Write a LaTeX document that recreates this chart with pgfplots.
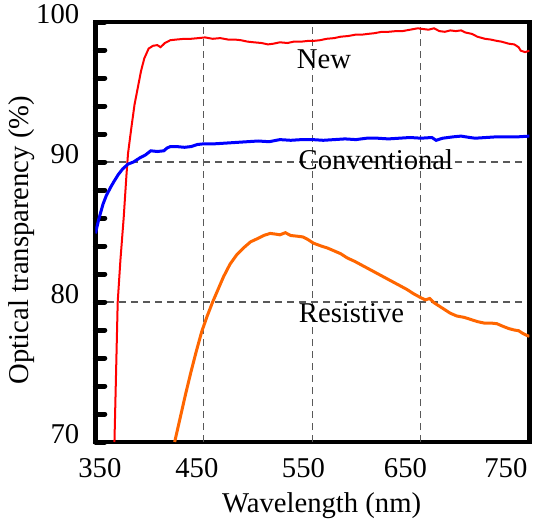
\documentclass[border=0pt]{standalone}
\usepackage{fontspec}
\setmainfont{Liberation Serif}
\usepackage{pgfplots}
\pgfplotsset{compat=1.18}
\definecolor{newred}{HTML}{FF0000}
\definecolor{convblue}{HTML}{0000FF}
\definecolor{resorange}{HTML}{FF6600}
\pgfplotsset{
  layers/gridbelow/.define layer set={axis background,axis grid,pre main,main,axis ticks,axis lines,axis tick labels,axis descriptions,axis foreground}{},
}

\begin{document}
\fontsize{21.5}{25}\selectfont
\begin{tikzpicture}
  \begin{axis}[
    set layers=gridbelow,
    scale only axis,
    width=325.5pt, height=315pt,
    xmin=350, xmax=750, ymin=70, ymax=100,
    axis line style={line width=3.5pt, line join=miter},
    % labels in the original sit a little off the grid lines
    xtick={354.1,443.5,541.7,635.7,728.3},
    xticklabels={350,450,550,650,750},
    xtick style={draw=none},
    extra x ticks={450,550,650},
    extra x tick labels={},
    extra x tick style={xmajorgrids=true, xtick style={draw=none}},
    ytick={70,80,90,100},
    minor y tick num=4,
    ytick pos=left,
    ytick style={line width=3.75pt, line cap=round, black},
    major tick length=7pt, minor tick length=7pt,
    ymajorgrids=true,
    grid style={black!65, line width=0.8pt, dash pattern=on 5pt off 4pt},
    /pgf/number format/assume math mode=true,
    xticklabel style={anchor=north, inner sep=0pt, yshift=-12pt},
    yticklabel style={anchor=base east, inner sep=0pt, xshift=-12pt, yshift=-1pt},
    xlabel={Wavelength (nm)},
    ylabel={Optical transparency (\%)},
    every axis x label/.style={at={(axis description cs:0.521,-0.169)}, anchor=base},
    every axis y label/.style={at={(axis description cs:-0.169,0.481)}, rotate=90, anchor=center},
  ]
    % New
    \addplot[newred, line width=1.5pt] coordinates {
      (367.5,70) (369,75) (370.5,80) (373,83) (376,86) (378.5,89) (380,90.6)
      (383,92.4) (386,94.1) (389,95.3) (392,96.5) (395,97.4) (399,98.1) (403,98.3)
      (407,98.35) (410,98.2) (414,98.5) (419,98.7) (425,98.75) (432,98.8)
      (438,98.8) (445,98.85) (451,98.9) (458,98.8) (465,98.85) (472,98.75)
      (478,98.75) (484,98.7) (490,98.6) (496,98.55) (503,98.5) (509,98.4)
      (514,98.45) (520,98.55) (527,98.5) (533,98.6) (540,98.6) (546,98.65)
      (551,98.65) (557,98.7) (563,98.8) (570,98.85) (576,98.95) (583,99.0)
      (590,99.1) (596,99.1) (601,99.15) (607,99.2) (614,99.3) (620,99.3)
      (627,99.35) (633,99.35) (640,99.45) (647,99.55) (652,99.5) (657,99.45)
      (662,99.55) (667,99.35) (672,99.3) (677,99.4) (682,99.35) (687,99.4)
      (691,99.25) (697,99.15) (702,98.95) (709,98.8) (714,98.75) (720,98.65)
      (724,98.6) (731,98.45) (736,98.4) (740,98.2) (742,97.95) (746,97.85)
      (750,97.95)
    };
    % Conventional
    \addplot[convblue, line width=2.25pt] coordinates {
      (350,84.9) (353,85.9) (357,87.0) (360,87.6) (364,88.2) (367,88.6)
      (371,89.1) (375,89.5) (380,89.85) (385,90.0) (391,90.3) (396,90.5)
      (401,90.8) (407,90.75) (413,90.8) (416,91.0) (419,91.1) (425,91.1)
      (432,91.05) (438,91.1) (444,91.25) (450,91.3) (460,91.3) (470,91.35)
      (480,91.4) (490,91.45) (500,91.5) (510,91.45) (520,91.6) (530,91.55)
      (540,91.6) (550,91.6) (560,91.55) (570,91.6) (580,91.65) (590,91.6)
      (600,91.7) (610,91.7) (620,91.65) (630,91.7) (640,91.75) (650,91.7)
      (660,91.75) (664,91.55) (670,91.7) (680,91.8) (687,91.85) (695,91.75)
      (700,91.7) (710,91.75) (720,91.8) (730,91.8) (740,91.8) (750,91.85)
    };
    % Resistive
    \addplot[resorange, line width=2.25pt] coordinates {
      (423,70) (428,71.7) (433,73.4) (438,75.0) (443,76.5) (448,77.9)
      (453,79.0) (458,80.0) (463,80.9) (468,81.8) (474,82.7) (480,83.35)
      (487,83.9) (493,84.3) (500,84.55) (505,84.75) (511,84.9) (516,84.85)
      (520,84.8) (525,84.95) (530,84.75) (536,84.7) (541,84.65) (545,84.5)
      (551,84.2) (558,84.0) (564,83.85) (570,83.65) (576,83.45) (582,83.15)
      (589,82.9) (595,82.65) (601,82.4) (607,82.15) (613,81.9) (619,81.65)
      (625,81.4) (631,81.15) (637,80.9) (643,80.6) (650,80.3) (654,80.15)
      (658,80.25) (662,79.95) (666,79.75) (672,79.45) (677,79.2) (683,79.0)
      (690,78.9) (696,78.75) (702,78.6) (708,78.5) (714,78.5) (720,78.45)
      (726,78.25) (731,78.1) (736,78.0) (740,77.95) (744,77.75) (748,77.6)
      (750,77.55)
    };
    \node[anchor=base] at (axis cs:560.6,96.71) {New};
    \node[anchor=base] at (axis cs:608.5,89.43) {Conventional};
    \node[anchor=base] at (axis cs:586,78.52) {Resistive};
  \end{axis}
  \pgfresetboundingbox
  \path[use as bounding box] (current axis.south west) ++(-71.6pt,-60pt) rectangle ++(399.75pt,391.5pt);
\end{tikzpicture}
\end{document}
